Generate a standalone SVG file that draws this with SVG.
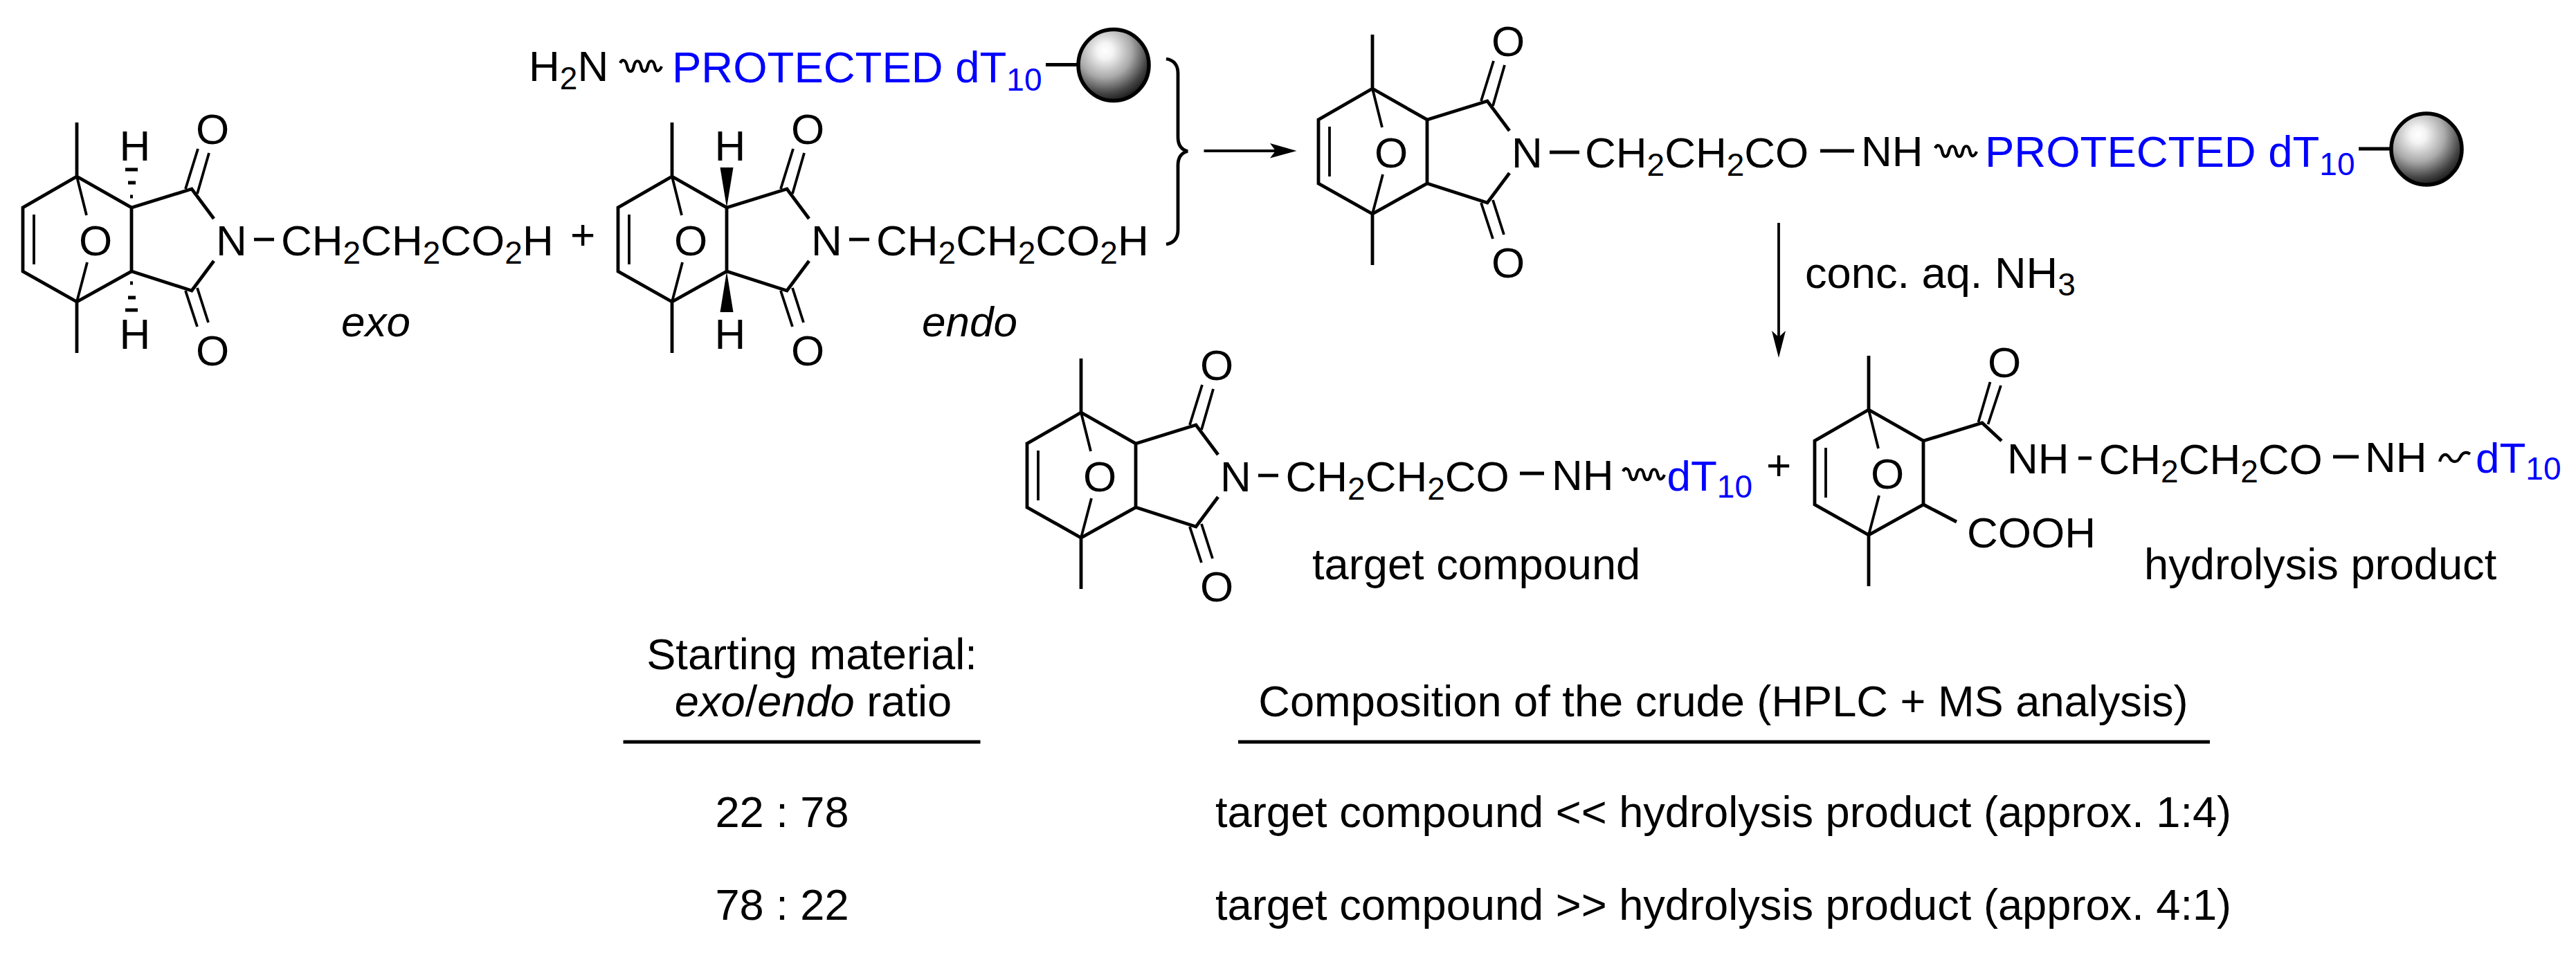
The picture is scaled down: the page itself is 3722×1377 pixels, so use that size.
<svg xmlns="http://www.w3.org/2000/svg" width="3722" height="1377" viewBox="0 0 3722 1377">
<style>
text{font-family:"Liberation Sans",Arial,sans-serif;font-size:62px;fill:#000}
.b{fill:#0000ff}
.p{font-size:63.500px}
.l{font-size:63.200px}
.s{font-size:46px}
.m{text-anchor:middle}
.i{font-style:italic}
.ln{fill:none;stroke:#000;stroke-width:4.800}
.th{fill:none;stroke:#000;stroke-width:3.800}
.w{fill:none;stroke:#000;stroke-width:4.200}
.bead{fill:url(#g);stroke:#000;stroke-width:5.500}
</style>
<defs>
<radialGradient id="g" cx=".38" cy=".3" r=".75">
<stop offset="0" stop-color="#fff"/><stop offset=".15" stop-color="#f4f4f4"/><stop offset=".5" stop-color="#aaa"/><stop offset=".8" stop-color="#444"/><stop offset="1" stop-color="#111"/>
</radialGradient>
<g id="cage">
<path class="ln" d="M111,177V255M111,255L33,300V392L111,436L190,392V300L111,255M111,510V436"/>
<path class="th" d="M111,255L125,311M126,379L111,436M49,310V382"/>
</g>
<g id="imide">
<path class="ln" d="M190,300L277,273L309,316M190,392L277,420L309,377"/>
<path class="th" d="M268,273L286,215M285,280L302,221M268,420L285,472M285,416L301,466"/>
</g>
<path id="wig" class="w" d="M0,4C3,-2 8,-1 10,8C12,19 18,19 20,8C22,-1 28,-1 30,8C32,19 38,19 40,8C42,-1 48,-1 50,8C52,19 57,16 60,9"/>
<path id="wig2" class="w" d="M0,15C3,4 9,2 14,9C18,17 26,17 30,8C33,2 38,0 44,4"/>
</defs>

<g id="exo">
<use href="#cage"/><use href="#imide"/>
<path class="ln" d="M367,346H396"/>
<path d="M181,242.500H199V247.500H181ZM185,261.500H196V266.500H185ZM188,281.500H192V286.500H188ZM188,406.500H192V411.500H188ZM185,427.500H196V432.500H185ZM181,445.500H199V450.500H181Z"/>
<text class="m" x="195" y="232">H</text><text class="m" x="195" y="504">H</text>
<text class="m" x="307" y="208">O</text><text class="m" x="307" y="528">O</text><text class="m" x="138" y="369">O</text>
<text x="312" y="368.500">N</text>
<text x="406" y="368.500">CH<tspan class="s" dy="12">2</tspan><tspan dy="-12">CH</tspan><tspan class="s" dy="12">2</tspan><tspan dy="-12">CO</tspan><tspan class="s" dy="12">2</tspan><tspan dy="-12">H</tspan></text>
<text class="i" x="493" y="486">exo</text>
</g>
<g id="plus1"><text class="m" x="842" y="360">+</text></g>

<g id="endo">
<g transform="translate(860,0)"><use href="#cage"/><use href="#imide"/></g>
<path class="ln" d="M1227,346H1256"/>
<path d="M1050,300L1040.500,242H1059.500ZM1050,392L1040.500,451H1059.500Z"/>
<text class="m" x="1055" y="232">H</text><text class="m" x="1055" y="504">H</text>
<text class="m" x="1167" y="208">O</text><text class="m" x="1167" y="528">O</text><text class="m" x="998" y="369">O</text>
<text x="1172" y="368.500">N</text>
<text x="1266" y="368.500">CH<tspan class="s" dy="12">2</tspan><tspan dy="-12">CH</tspan><tspan class="s" dy="12">2</tspan><tspan dy="-12">CO</tspan><tspan class="s" dy="12">2</tspan><tspan dy="-12">H</tspan></text>
<text class="i" x="1332" y="486">endo</text>
</g>

<g id="support">
<text x="764" y="117">H<tspan class="s" dy="12">2</tspan><tspan dy="-12">N</tspan></text>
<use href="#wig" x="896" y="87"/>
<text class="b p" x="971" y="118.500">PROTECTED dT<tspan class="s" dy="12">10</tspan></text>
<path class="ln" d="M1511,93.500H1556"/>
<ellipse class="bead" cx="1609" cy="94" rx="51" ry="51.500"/>
</g>

<g id="amide">
<g transform="translate(1872,-127)"><use href="#cage"/><use href="#imide"/></g>
<path class="ln" d="M2239,220H2282"/>
<text class="m" x="2179" y="81">O</text><text class="m" x="2179" y="401">O</text><text class="m" x="2010" y="242">O</text>
<text x="2184" y="241.500">N</text>
<text x="2290" y="241.500">CH<tspan class="s" dy="12">2</tspan><tspan dy="-12">CH</tspan><tspan class="s" dy="12">2</tspan><tspan dy="-12">CO</tspan></text>
<path class="ln" d="M2630,218H2679"/>
<text x="2689" y="240">NH</text>
<use href="#wig" x="2796" y="210"/>
<text class="b p" x="2868" y="240.500">PROTECTED dT<tspan class="s" dy="12">10</tspan></text>
<path class="ln" d="M3408,215H3455"/>
<ellipse class="bead" cx="3506" cy="215.500" rx="51" ry="51.500"/>
</g>

<g id="target">
<g transform="translate(1451,341)"><use href="#cage"/><use href="#imide"/></g>
<path class="ln" d="M1818,687H1847"/>
<text class="m" x="1758" y="549">O</text><text class="m" x="1758" y="869">O</text><text class="m" x="1589" y="710">O</text>
<text x="1763" y="709.500">N</text>
<text x="1857.500" y="709.500">CH<tspan class="s" dy="12">2</tspan><tspan dy="-12">CH</tspan><tspan class="s" dy="12">2</tspan><tspan dy="-12">CO</tspan></text>
<path class="ln" d="M2196,684H2231"/>
<text x="2242" y="708">NH</text>
<use href="#wig" x="2345" y="677"/>
<text class="b" x="2408.500" y="709">dT<tspan class="s" dy="10">10</tspan></text>
<text class="l" x="1896" y="836.500">target compound</text>
</g>
<g id="plus2"><text class="m" x="2570" y="693">+</text></g>

<g id="hydrolysis">
<g transform="translate(2589,337)"><use href="#cage"/></g>
<path class="ln" d="M2779,637L2864,611L2892,637M2779,729L2827,754M3003,662H3022M3371,660H3408"/>
<path class="th" d="M2858.500,610L2875.500,552M2872.500,613L2891,557"/>
<text class="m" x="2896" y="545">O</text><text class="m" x="2727" y="706">O</text>
<text x="2900" y="684">NH</text>
<text x="3032.500" y="684.500">CH<tspan class="s" dy="12">2</tspan><tspan dy="-12">CH</tspan><tspan class="s" dy="12">2</tspan><tspan dy="-12">CO</tspan></text>
<text x="3417" y="682">NH</text>
<use href="#wig2" x="3525" y="652"/>
<text class="b" x="3577" y="683">dT<tspan class="s" dy="10">10</tspan></text>
<text x="2842" y="791">COOH</text>
<text class="l" x="3098" y="836.500">hydrolysis product</text>
</g>

<g id="condition"><text class="l" x="2608" y="416">conc. aq. NH<tspan class="s" dy="11">3</tspan></text></g>

<g id="connectors">
<path class="ln" d="M1685,85Q1702,88 1702,106V198Q1702,215 1716,218.500Q1702,222 1702,239V332Q1702,350 1685,353"/>
<path class="th" d="M1739.500,218H1845M2570,322V490"/>
<path d="M1873.500,218L1835,207L1843,218L1835,228.500Z"/>
<path d="M2570,517L2560,478L2570,487L2580,478Z"/>
</g>

<g id="table">
<text class="m l" x="1173" y="967">Starting material:</text>
<text class="m l" x="1175" y="1035"><tspan class="i">exo</tspan>/<tspan class="i">endo</tspan> ratio</text>
<text class="m l" x="2490" y="1035">Composition of the crude (HPLC + MS analysis)</text>
<path class="ln" d="M900.500,1072H1416.500M1789,1072H3193"/>
<text class="m l" x="1130" y="1195">22 : 78</text>
<text class="m l" x="1130" y="1329">78 : 22</text>
<text class="l" x="1756" y="1195">target compound &lt;&lt; hydrolysis product (approx. 1:4)</text>
<text class="l" x="1756" y="1329">target compound &gt;&gt; hydrolysis product (approx. 4:1)</text>
</g>
</svg>
